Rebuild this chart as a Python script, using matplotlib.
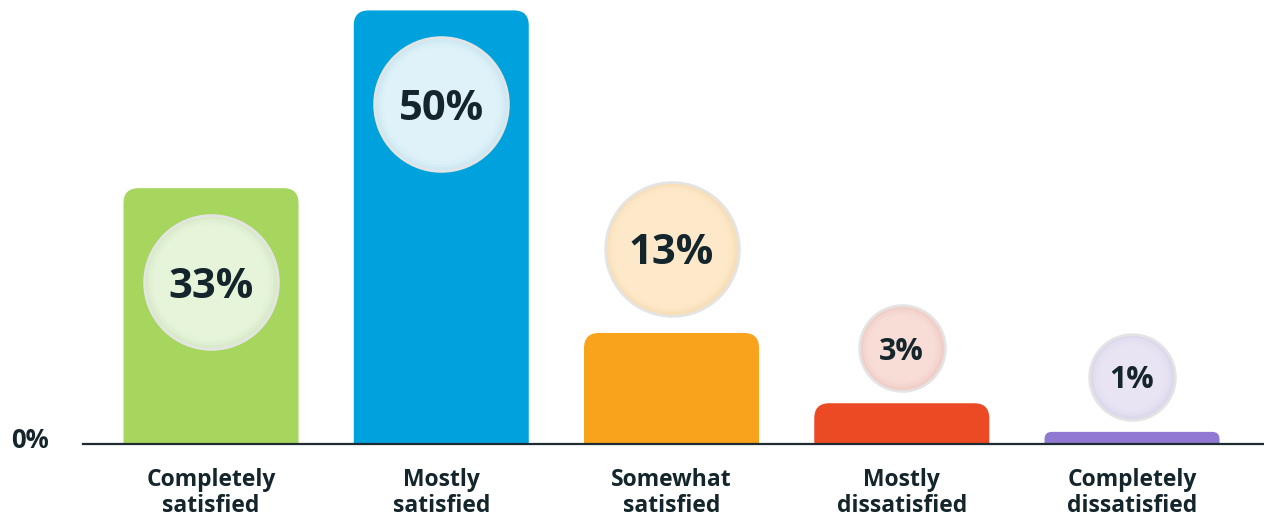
import matplotlib
matplotlib.use("Agg")
import matplotlib.pyplot as plt
from matplotlib.patches import FancyBboxPatch

categories = ["Completely\nsatisfied", "Mostly\nsatisfied", "Somewhat\nsatisfied",
              "Mostly\ndissatisfied", "Completely\ndissatisfied"]
values = [33, 50, 13, 3, 1]                      # labels shown in circles (%)
bar_heights = [29.5, 50, 12.8, 4.7, 1.4]         # bar heights as drawn (%)
bar_colors = ["#a6d65d", "#00a2dd", "#f9a21b", "#ec4925", "#9079d0"]
circle_fills = ["#e6f4da", "#dff2f9", "#fde9ca", "#f8dcd6", "#e9e4f4"]
circle_shades = ["#d9ebca", "#cfe8f2", "#f7dfba", "#f1cfc8", "#ddd8ec"]
zero_label = "0%"

TEXT = "#14252b"
FONT = ["Open Sans", "DejaVu Sans"]

W, H, DPI = 1264, 519, 100
fig = plt.figure(figsize=(W / DPI, H / DPI), dpi=DPI)
ax_l, ax_b, ax_w, ax_h = 83, 75, W - 83, 444
ax = fig.add_axes([ax_l / W, ax_b / H, ax_w / W, ax_h / H])

ymax = 51.2
xmin, xmax = -0.556, -0.556 + ax_w / 230.25
ax.set_xlim(xmin, xmax)
ax.set_ylim(0, ymax)
px_x = ax_w / (xmax - xmin)   # px per x unit
px_y = ax_h / ymax            # px per y unit

bar_w = 175 / px_x
for i, (h, c) in enumerate(zip(bar_heights, bar_colors)):
    hpx = h * px_y
    r_px = min(15, hpx * 0.6)
    ext = 20 / px_y
    rs = r_px / px_x
    p = FancyBboxPatch((i - bar_w / 2, -ext), bar_w, h + ext,
                       boxstyle=f"round,pad=0,rounding_size={rs}",
                       mutation_aspect=px_x / px_y,
                       fc=c, ec="none", zorder=2, clip_on=True)
    ax.add_patch(p)

# circles
pt = 72 / DPI
for i, (v, h) in enumerate(zip(values, bar_heights)):
    big = v >= 10
    r = 67 if big else 43
    hpx = h * px_y
    if hpx >= 2 * r + 60:
        cy_px = hpx - (r + 27)
    else:
        cy_px = hpx + r + (17 if big else 12)
    cy = cy_px / px_y
    ax.scatter([i], [cy], s=(2 * r * pt) ** 2, c=[circle_shades[i]],
               edgecolors="#e4e4e4", linewidths=2.5 * pt, zorder=3)
    for k, a in [(4, 0.5), (7, 0.75), (10, 1.0)]:
        ax.scatter([i], [cy], s=(2 * (r - k) * pt) ** 2, c=[circle_fills[i]],
                   edgecolors="none", alpha=a, zorder=4)
    ax.text(i, cy, f"{v}%", ha="center", va="center_baseline",
            fontsize=30 if big else 22, fontweight="bold", color=TEXT,
            family=FONT, zorder=5)

for s in ["top", "right", "left"]:
    ax.spines[s].set_visible(False)
ax.spines["bottom"].set_color("#1e2b30")
ax.spines["bottom"].set_linewidth(1.6)
ax.spines["bottom"].set_zorder(6)

ax.set_xticks(range(len(categories)))
ax.set_xticklabels(categories, fontsize=16.5, fontweight="bold", color=TEXT,
                   family=FONT, linespacing=1.15)
ax.tick_params(axis="x", length=0, pad=17)
ax.set_yticks([])
ax.annotate(zero_label, xy=(0, 0), xycoords="axes fraction",
            xytext=(-34 * pt, 4 * pt), textcoords="offset points",
            ha="right", va="center", fontsize=18.5, fontweight="bold",
            color=TEXT, family=FONT)

fig.savefig("out.png", dpi=DPI)
